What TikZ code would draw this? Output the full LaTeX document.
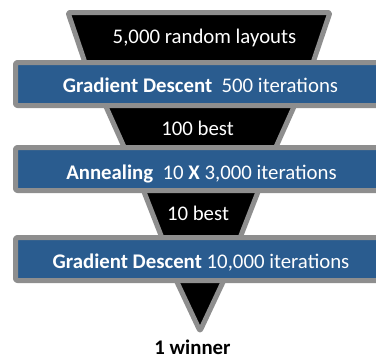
\documentclass[tikz,border=0pt]{standalone}
\usepackage{fontspec}
\setmainfont{Carlito}
\definecolor{barblue}{HTML}{2A5C8F}
\definecolor{rimgray}{HTML}{8E8E8E}
\begin{document}
\begin{tikzpicture}[x=1pt,y=-1pt,
  rim/.style={draw=rimgray,line width=5pt,line join=round,rounded corners=2pt},
  funnel/.style={rim,fill=black},
  band/.style={rim,fill=barblue},
  lbl/.style={font=\fontsize{20.8}{24}\selectfont,text=white,anchor=base,inner sep=0pt}]
\useasboundingbox (0,0) rectangle (376,360);
\clip (0,0) rectangle (376,360);
% funnel pieces
\draw[funnel] (68,12.5) -- (330,12.5) -- (310.5,70) -- (87.5,70) -- cycle;
\draw[funnel] (103,100) -- (297,100) -- (273.7,152) -- (126.3,152) -- cycle;
\draw[funnel] (142.5,188) -- (259.5,188) -- (239.2,240) -- (162.8,240) -- cycle;
\draw[funnel] (175.1,278) -- (224.9,278) -- (200,331) -- cycle;
% bands
\draw[band] (15.5,62.5) rectangle (400,105.5);
\draw[band] (15.5,147.5) rectangle (400,190.5);
\draw[band] (15.5,237.5) rectangle (400,280.5);
% labels
\node[lbl] (t1) at (204.5,43) {5,000 random layouts};
\node[lbl] (b1) at (200.5,92) {\textbf{Gradient Descent}\ \ 500 iterations};
\node[lbl] (t2) at (197.5,135) {100 best};
\node[lbl] (b2) at (201.5,179) {\textbf{Annealing}\ \ 10 \textbf{X} 3,000 iterations};
\node[lbl] (t3) at (198,220) {10 best};
\node[lbl] (b3) at (201,268) {\textbf{Gradient Descent} 10,000 iterations};
\node[lbl,text=black] (w) at (192.5,354) {\textbf{1 winner}};
\end{tikzpicture}
\end{document}
